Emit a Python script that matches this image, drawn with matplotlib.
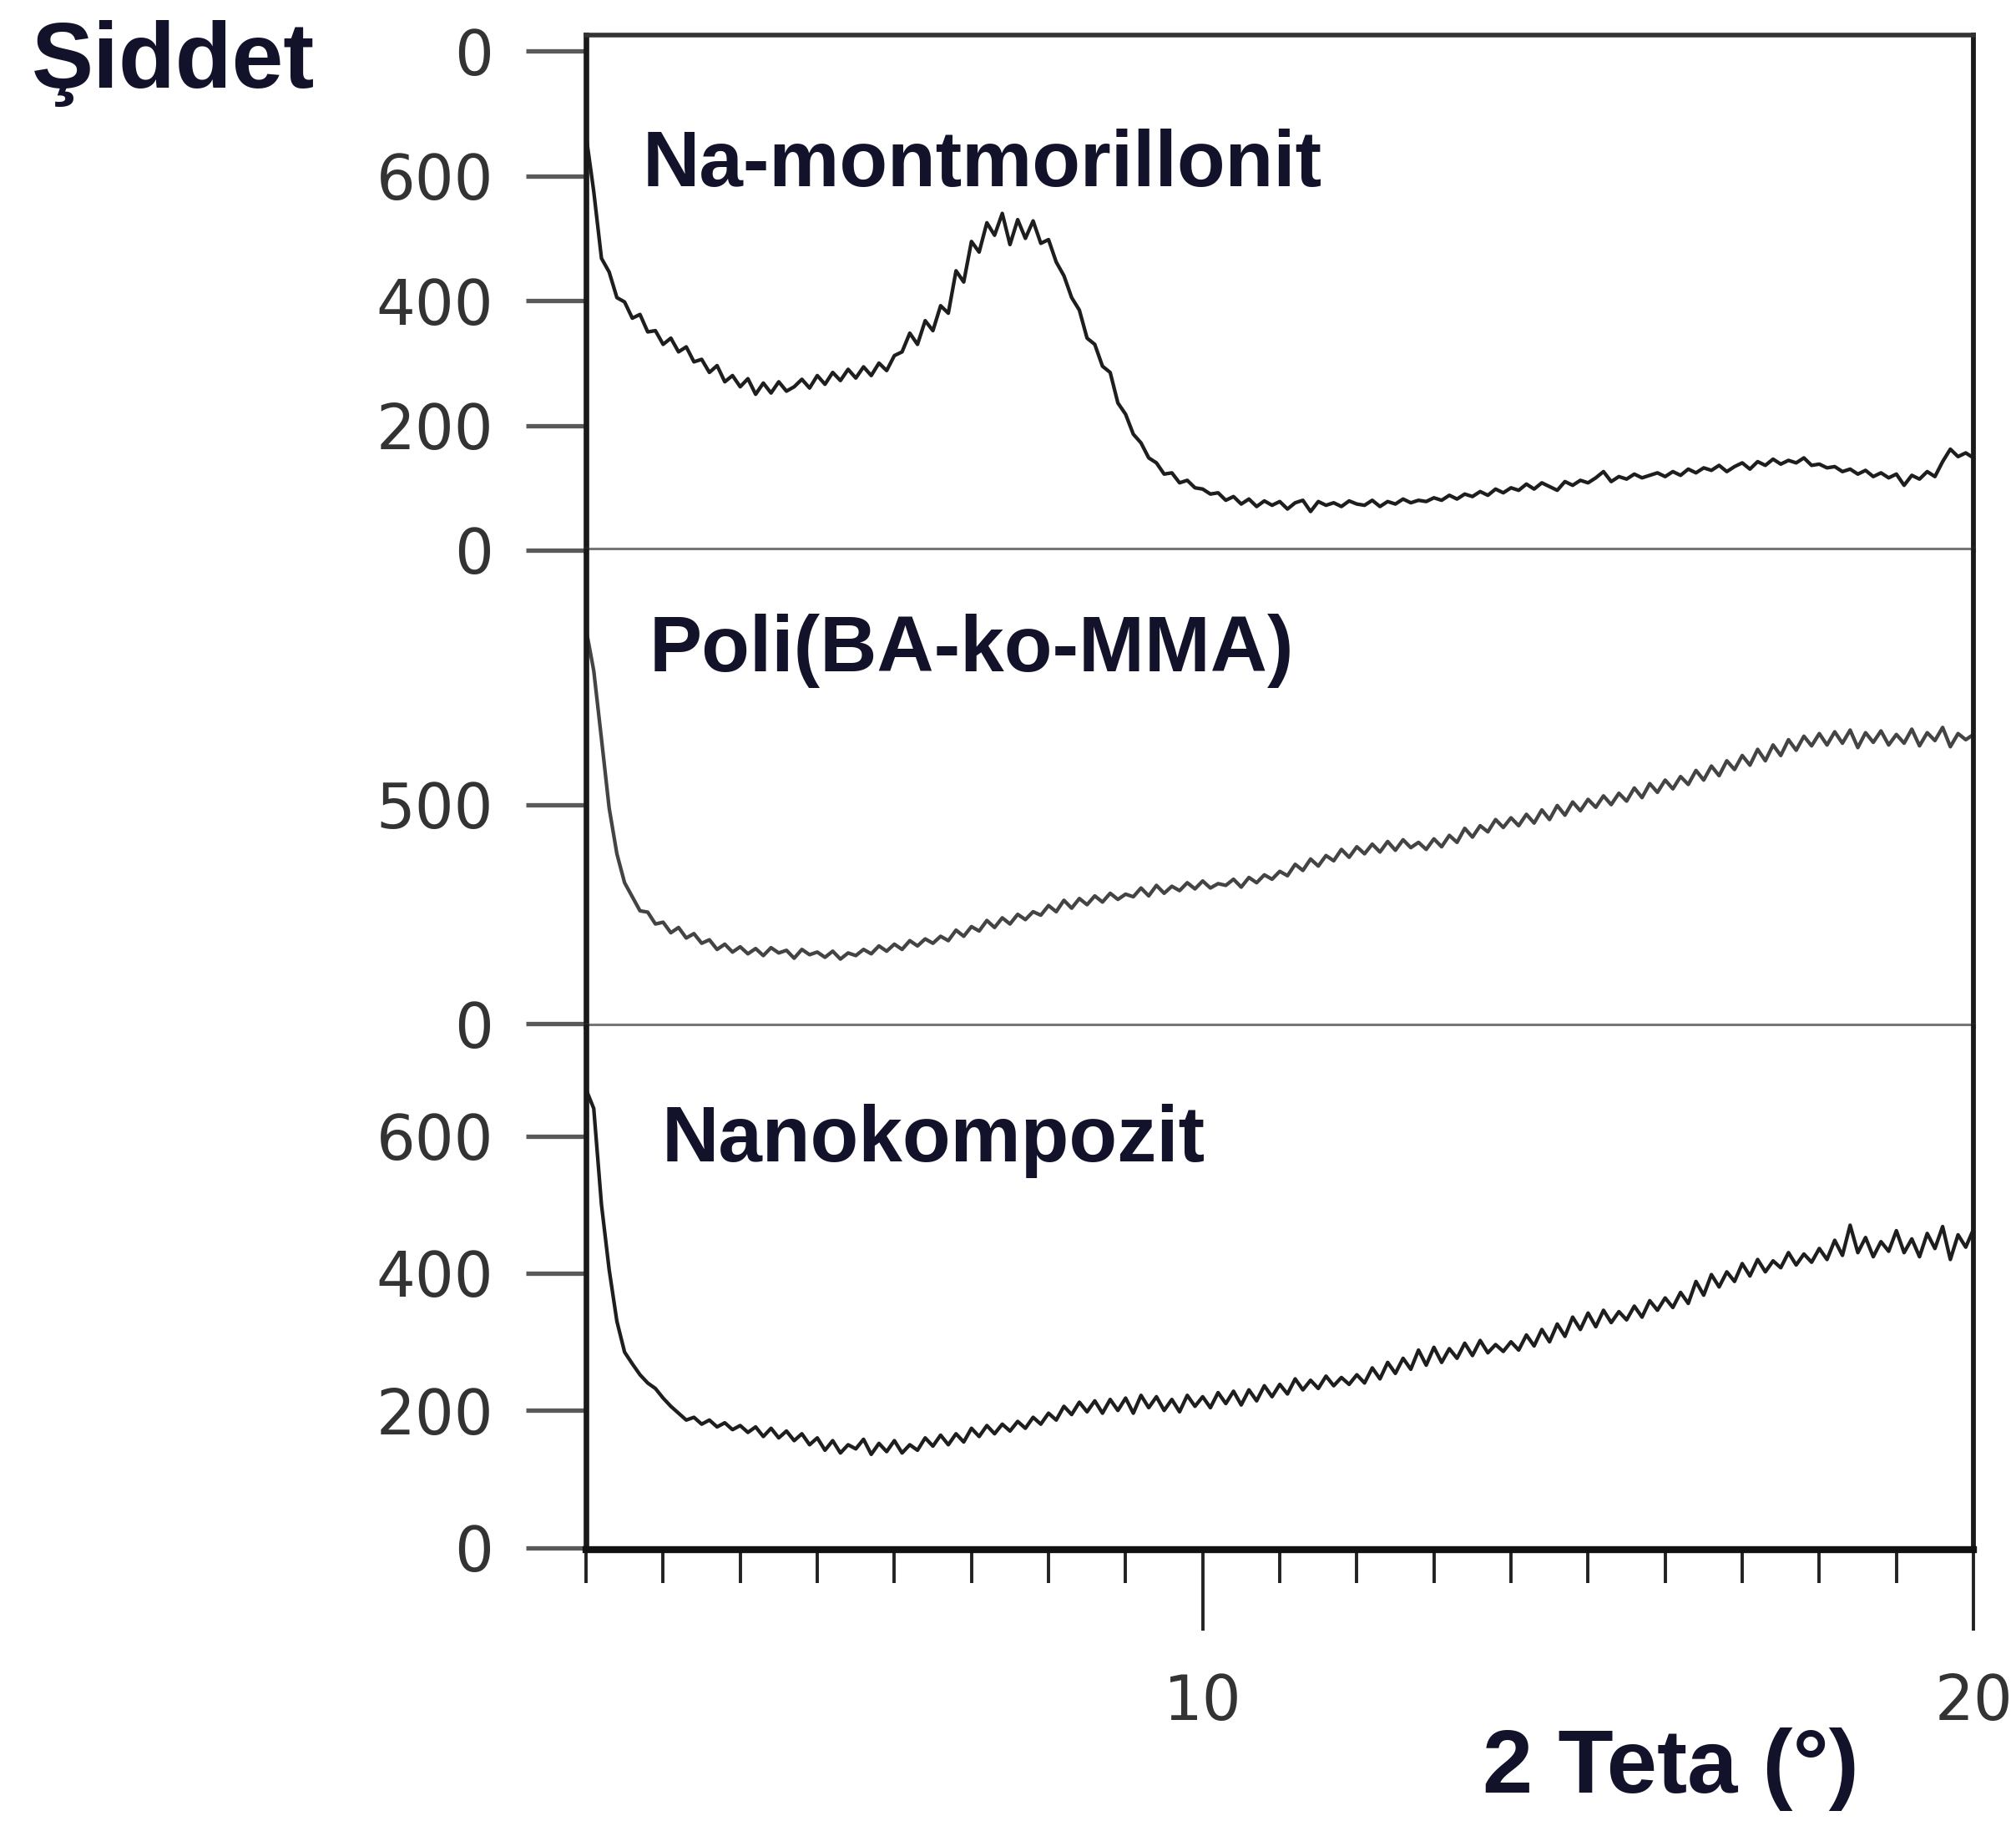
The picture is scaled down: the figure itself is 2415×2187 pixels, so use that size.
import numpy as np
import matplotlib.pyplot as plt

# 2 theta grid, 0.1 deg steps from 2 to 20
two_theta = np.round(np.arange(2.0, 20.01, 0.1), 1)

# Na-montmorillonit intensities
na_mmt = [665, 575, 468, 446, 405, 398, 372, 378, 350, 352,
          330, 340, 318, 326, 302, 306, 285, 296, 270, 280,
          262, 275, 250, 268, 252, 270, 255, 262, 274, 260,
          280, 266, 285, 272, 290, 276, 294, 280, 300, 288,
          312, 318, 348, 330, 368, 352, 392, 380, 448, 430,
          495, 478, 525, 505, 540, 490, 530, 500, 528, 492,
          498, 462, 440, 405, 385, 340, 330, 295, 285, 236,
          218, 186, 172, 148, 140, 122, 124, 108, 112, 100,
          98, 90, 92, 80, 86, 74, 82, 70, 79, 72,
          78, 66, 76, 80, 62, 78, 72, 76, 70, 79,
          74, 72, 80, 70, 78, 74, 82, 76, 80, 78,
          84, 80, 88, 82, 90, 86, 94, 88, 98, 92,
          100, 96, 106, 98, 108, 102, 96, 110, 104, 112,
          108, 116, 126, 110, 118, 114, 122, 116, 120, 124,
          118, 126, 120, 130, 124, 132, 128, 136, 126, 134,
          140, 130, 142, 136, 146, 138, 144, 140, 148, 136,
          138, 132, 134, 126, 130, 122, 128, 118, 124, 116,
          122, 104, 120, 114, 126, 118, 142, 162, 150, 156,
          148]

# Poli(BA-ko-MMA) intensities
poli = [900, 805, 650, 492, 388, 322, 290, 258, 255, 228,
        232, 208, 220, 196, 206, 184, 192, 170, 182, 164,
        176, 160, 172, 156, 174, 162, 168, 150, 170, 158,
        164, 152, 166, 148, 162, 156, 170, 160, 178, 166,
        182, 170, 190, 178, 194, 184, 200, 190, 214, 200,
        222, 212, 236, 220, 242, 228, 250, 238, 256, 248,
        270, 256, 282, 264, 286, 272, 292, 278, 298, 284,
        296, 290, 310, 292, 316, 298, 314, 304, 322, 308,
        326, 310, 320, 316, 330, 312, 334, 322, 340, 330,
        348, 338, 364, 350, 376, 360, 384, 372, 398, 380,
        404, 388, 410, 392, 416, 396, 420, 402, 414, 398,
        422, 404, 430, 414, 446, 426, 452, 438, 466, 448,
        470, 452, 478, 458, 488, 466, 498, 476, 506, 486,
        512, 494, 520, 500, 526, 508, 538, 516, 548, 528,
        556, 536, 564, 546, 578, 556, 588, 566, 600, 580,
        612, 590, 626, 600, 636, 612, 648, 624, 656, 634,
        662, 636, 666, 640, 670, 630, 664, 642, 668, 636,
        660, 640, 672, 634, 664, 646, 676, 632, 662, 648,
        660]

# Nanokompozit intensities
nano = [668, 640, 500, 405, 330, 285, 268, 252, 240, 232,
        218, 206, 196, 186, 190, 180, 186, 176, 182, 172,
        178, 168, 176, 162, 174, 160, 170, 156, 166, 150,
        160, 142, 156, 138, 150, 144, 158, 136, 152, 140,
        156, 138, 150, 142, 160, 148, 164, 150, 166, 154,
        174, 162, 178, 166, 180, 170, 184, 174, 190, 180,
        196, 186, 206, 194, 212, 198, 214, 196, 216, 200,
        218, 196, 222, 204, 220, 200, 216, 198, 222, 206,
        220, 204, 226, 210, 228, 208, 230, 214, 236, 220,
        238, 224, 246, 230, 244, 232, 250, 236, 248, 238,
        252, 240, 262, 246, 270, 254, 276, 260, 288, 266,
        292, 270, 290, 276, 298, 280, 302, 284, 296, 286,
        300, 288, 310, 294, 318, 300, 326, 308, 336, 318,
        342, 322, 346, 328, 344, 332, 352, 336, 360, 346,
        364, 350, 372, 356, 388, 368, 398, 380, 402, 388,
        414, 396, 420, 402, 418, 408, 430, 412, 428, 416,
        436, 420, 448, 426, 470, 430, 452, 424, 446, 432,
        462, 430, 450, 424, 458, 436, 468, 420, 456, 438,
        464]

names = ['Na-montmorillonit', 'Poli(BA-ko-MMA)', 'Nanokompozit']
series = [na_mmt, poli, nano]
line_colors = ['#1e1e1e', '#444444', '#1e1e1e']
ylims = [(0, 826), (-5, 1080), (-3, 760)]
yticks = [[0, 200, 400, 600, 800], [0, 500], [0, 200, 400, 600]]
yticklabels = [['0', '200', '400', '600', '0'], ['0', '500'], ['0', '200', '400', '600']]
label_pos = [(2.73, 583), (2.82, 804), (2.98, 563)]

text_col = '#12122a'
tick_col = '#333333'

fig = plt.figure(figsize=(24.15, 21.87), dpi=100)

# panel boxes in figure fraction (left, bottom, width, height)
boxes = [(0.2907, 0.6987, 0.6882, 0.2821),
         (0.2907, 0.4380, 0.6882, 0.2607),
         (0.2907, 0.1513, 0.6882, 0.2867)]

axes = []
for i in range(3):
    ax = fig.add_axes(boxes[i])
    ax.plot(two_theta, series[i], color=line_colors[i], lw=3.1)
    ax.set_xlim(2, 20)
    ax.set_ylim(*ylims[i])
    ax.set_yticks(yticks[i])
    ax.set_yticklabels(yticklabels[i])
    ax.tick_params(axis='y', direction='out', length=52, width=3.8, color='#5a5a5a',
                   pad=28, labelsize=53, labelcolor=tick_col)
    for lab in ax.get_yticklabels():
        lab.set_fontfamily('DejaVu Sans')
    ax.text(label_pos[i][0], label_pos[i][1], names[i], fontsize=68,
            fontweight='bold', color=text_col, family='Liberation Sans',
            va='baseline', ha='left')
    ax.spines['left'].set_linewidth(4.8)
    ax.spines['left'].set_color('#1a1a1a')
    ax.spines['right'].set_linewidth(4.2)
    ax.spines['right'].set_color('#1a1a1a')
    ax.spines['top'].set_linewidth(4)
    ax.spines['top'].set_color('#333333')
    ax.spines['bottom'].set_linewidth(4.4)
    ax.spines['bottom'].set_color('#767676')
    if i > 0:
        ax.spines['top'].set_visible(False)
    if i < 2:
        ax.set_xticks([])
    axes.append(ax)

# bottom x axis
ax = axes[2]
ax.spines['bottom'].set_linewidth(6)
ax.spines['bottom'].set_color('#111111')
ax.set_xticks([10, 20])
ax.set_xticklabels(['10', '20'])
ax.set_xticks(range(2, 21), minor=True)
ax.tick_params(axis='x', which='major', direction='out', length=70, width=2.8,
               color='#222222', pad=36, labelsize=53, labelcolor=tick_col)
ax.tick_params(axis='x', which='minor', direction='out', length=29, width=2.8,
               color='#222222')
for lab in ax.get_xticklabels():
    lab.set_fontfamily('DejaVu Sans')

fig.text(0.0157, 0.952, 'Şiddet', fontsize=80, fontweight='bold',
         color=text_col, family='Liberation Sans', va='baseline', ha='left')
fig.text(0.7354, 0.0183, '2 Teta (°)', fontsize=78, fontweight='bold',
         color=text_col, family='Liberation Sans', va='baseline', ha='left')

fig.savefig('out.png', dpi=100, facecolor='white')
